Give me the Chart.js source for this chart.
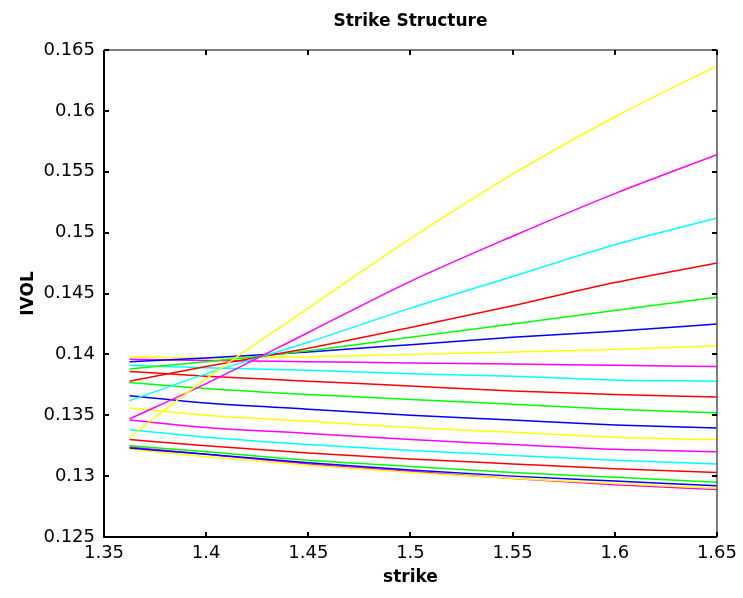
<!DOCTYPE html>
<html>
<head>
<meta charset="utf-8">
<script src="https://cdn.jsdelivr.net/npm/chart.js@4.4.0/dist/chart.umd.min.js"></script>
<style>
  html, body { margin: 0; padding: 0; background: #fff; }
</style>
</head>
<body>
<canvas id="ivolChart" width="743" height="598"></canvas>
<script>
var strikes = [1.3625, 1.40, 1.45, 1.50, 1.55, 1.60, 1.65];
var xTicks = [1.35, 1.40, 1.45, 1.50, 1.55, 1.60, 1.65];
var yTicks = [0.125, 0.13, 0.135, 0.14, 0.145, 0.15, 0.155, 0.16, 0.165];

// one implied-vol curve per maturity, ordered top to bottom at the right edge
var ivol01 = [0.1332, 0.1380, 0.1438, 0.1495, 0.1548, 0.1595, 0.1637];
var ivol02 = [0.1347, 0.1376, 0.1418, 0.1460, 0.1497, 0.1532, 0.1564];
var ivol03 = [0.1362, 0.1384, 0.1410, 0.1438, 0.1464, 0.1490, 0.1512];
var ivol04 = [0.1378, 0.1390, 0.1405, 0.1422, 0.1440, 0.1459, 0.1475];
var ivol05 = [0.1388, 0.1394, 0.1403, 0.1414, 0.1425, 0.1436, 0.1447];
var ivol06 = [0.1394, 0.1397, 0.1402, 0.1408, 0.1414, 0.1419, 0.1425];
var ivol07 = [0.1398, 0.1397, 0.1398, 0.1400, 0.1402, 0.1404, 0.1407];
var ivol08 = [0.1396, 0.1395, 0.1394, 0.1393, 0.1392, 0.1391, 0.1390];
var ivol09 = [0.1391, 0.1389, 0.1387, 0.1384, 0.1382, 0.1379, 0.1378];
var ivol10 = [0.1386, 0.1382, 0.1378, 0.1374, 0.1370, 0.1367, 0.1365];
var ivol11 = [0.1377, 0.1372, 0.1367, 0.1363, 0.1359, 0.1355, 0.1352];
var ivol12 = [0.1366, 0.1360, 0.1355, 0.1350, 0.1346, 0.1342, 0.13395];
var ivol13 = [0.1356, 0.1350, 0.1345, 0.1340, 0.1336, 0.1332, 0.1330];
var ivol14 = [0.1346, 0.1340, 0.1335, 0.1330, 0.1326, 0.1322, 0.1320];
var ivol15 = [0.1338, 0.1332, 0.1326, 0.1321, 0.1317, 0.1313, 0.1310];
var ivol16 = [0.1330, 0.1325, 0.1319, 0.1314, 0.1310, 0.1306, 0.1303];
var ivol17 = [0.1325, 0.1320, 0.1313, 0.1308, 0.1303, 0.1299, 0.1295];
var ivol18 = [0.1323, 0.1318, 0.1311, 0.1305, 0.1300, 0.1296, 0.1292];
var ivol19 = [0.1322, 0.1316, 0.1309, 0.1303, 0.1298, 0.1294, 0.1290];
var ivol20 = [0.1324, 0.1318, 0.1310, 0.1304, 0.1298, 0.1293, 0.1289];

var curves = [ivol01, ivol02, ivol03, ivol04, ivol05, ivol06, ivol07, ivol08, ivol09, ivol10,
              ivol11, ivol12, ivol13, ivol14, ivol15, ivol16, ivol17, ivol18, ivol19, ivol20];
var colorCycle = ['#ffff00', '#ff00ff', '#00ffff', '#ff0000', '#00ff00', '#0000ff'];

var chartTitle = 'Strike Structure';
var fontFamily = '"DejaVu Sans", sans-serif';

var datasets = curves.map(function(vals, i) {
  return {
    label: 'curve ' + (i + 1),
    data: vals.map(function(v, j) { return { x: strikes[j], y: v }; }),
    borderColor: colorCycle[i % colorCycle.length],
    borderWidth: 1.5,
    pointRadius: 0,
    fill: false,
    cubicInterpolationMode: 'monotone'
  };
});

// box around the axes, inward tick marks on all four sides, and the title
var matlabFrame = {
  id: 'matlabFrame',
  afterDraw: function(chart) {
    var ctx = chart.ctx, a = chart.chartArea;
    var xs = chart.scales.x, ys = chart.scales.y;
    ctx.save();
    ctx.strokeStyle = '#555';
    ctx.lineWidth = 1.5;
    ctx.beginPath();
    ctx.moveTo(a.left, a.top); ctx.lineTo(a.right, a.top); ctx.lineTo(a.right, a.bottom);
    ctx.stroke();
    ctx.strokeStyle = '#000';
    ctx.lineWidth = 2;
    ctx.beginPath();
    ctx.moveTo(a.left, a.top); ctx.lineTo(a.left, a.bottom); ctx.lineTo(a.right, a.bottom);
    ctx.stroke();
    ctx.lineWidth = 2;
    ctx.beginPath();
    xs.ticks.forEach(function(t) {
      var px = Math.round(xs.getPixelForValue(t.value));
      ctx.moveTo(px, a.bottom); ctx.lineTo(px, a.bottom - 5);
      ctx.moveTo(px, a.top); ctx.lineTo(px, a.top + 5);
    });
    ys.ticks.forEach(function(t) {
      var py = Math.round(ys.getPixelForValue(t.value));
      ctx.moveTo(a.left, py); ctx.lineTo(a.left + 5, py);
      ctx.moveTo(a.right, py); ctx.lineTo(a.right - 5, py);
    });
    ctx.stroke();
    ctx.fillStyle = '#000';
    ctx.font = 'bold 17px ' + fontFamily;
    ctx.textAlign = 'center';
    ctx.textBaseline = 'alphabetic';
    ctx.fillText(chartTitle, (a.left + a.right) / 2, 26);
    ctx.restore();
  }
};

function fmt(v) { return String(parseFloat(v.toFixed(3))); }

var ctx = document.getElementById('ivolChart').getContext('2d');
var ivolChart = new Chart(ctx, {
  type: 'line',
  data: { datasets: datasets },
  options: {
    responsive: false,
    devicePixelRatio: 1,
    animation: false,
    layout: { padding: { top: 50, right: 21, left: 0, bottom: 0 } },
    plugins: { legend: { display: false }, tooltip: { enabled: false } },
    scales: {
      x: {
        type: 'linear',
        min: 1.35,
        max: 1.65,
        grid: { display: false, drawTicks: false },
        border: { display: false },
        afterBuildTicks: function(scale) {
          scale.ticks = xTicks.map(function(v) { return { value: v }; });
        },
        afterFit: function(scale) { scale.height = 61; },
        ticks: {
          padding: 6,
          color: '#000',
          maxRotation: 0,
          font: { family: fontFamily, size: 18 },
          callback: function(v) { return fmt(v); }
        },
        title: {
          display: true,
          text: 'strike',
          color: '#000',
          padding: { top: 10, bottom: 10 },
          font: { family: fontFamily, size: 17, weight: 'bold' }
        }
      },
      y: {
        type: 'linear',
        min: 0.125,
        max: 0.165,
        grid: { display: false, drawTicks: false },
        border: { display: false },
        afterBuildTicks: function(scale) {
          scale.ticks = yTicks.map(function(v) { return { value: v }; });
        },
        afterFit: function(scale) { scale.width = 104; },
        ticks: {
          padding: 9,
          color: '#000',
          font: { family: fontFamily, size: 18 },
          callback: function(v) { return fmt(v); }
        },
        title: {
          display: true,
          text: 'IVOL',
          color: '#000',
          padding: { top: 18, bottom: 0 },
          font: { family: fontFamily, size: 17, weight: 'bold' }
        }
      }
    }
  },
  plugins: [matlabFrame]
});
</script>
</body>
</html>
